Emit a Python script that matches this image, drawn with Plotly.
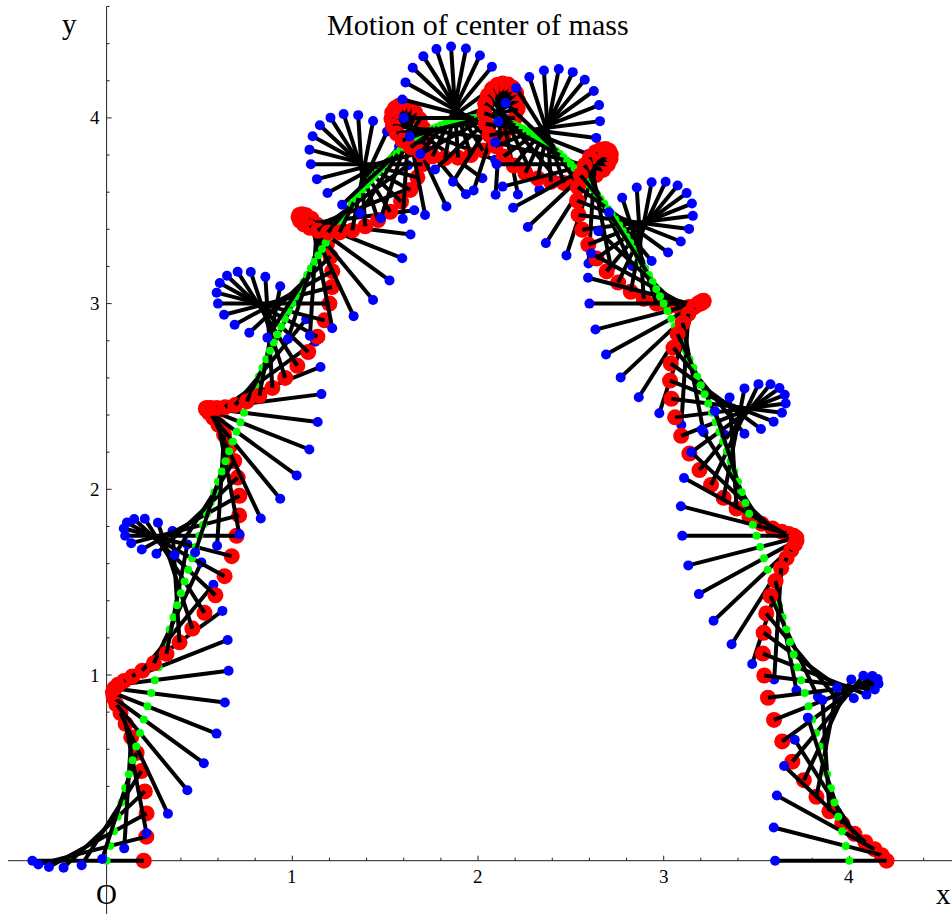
import numpy as np
import plotly.graph_objects as go

# Centre of mass follows a projectile path from (0, 0) to (4, 0)
launch_range = 4.0
peak_height = 4.0
# Rigid dumbbell: heavy end (red) and light end (blue), distances from the centre of mass
arm_red = 0.2
arm_blue = 0.4
turns = 8          # full revolutions during the flight
steps = 200        # time steps sampled

x_major = [1, 2, 3, 4]
y_major = [1, 2, 3, 4]
x_minor = [-0.4, -0.2, 0.2, 0.4, 0.6, 0.8, 1.2, 1.4, 1.6, 1.8, 2.2, 2.4, 2.6, 2.8,
           3.2, 3.4, 3.6, 3.8, 4.2, 4.4]
y_minor = [0.2, 0.4, 0.6, 0.8, 1.2, 1.4, 1.6, 1.8, 2.2, 2.4, 2.6, 2.8,
           3.2, 3.4, 3.6, 3.8, 4.2, 4.4, 4.6]

s = np.linspace(0.0, 1.0, steps + 1)
cx = launch_range * s
cy = 4.0 * peak_height * s * (1.0 - s)
theta = 2.0 * np.pi * turns * s
rx = cx + arm_red * np.cos(theta)
ry = cy + arm_red * np.sin(theta)
bx = cx - arm_blue * np.cos(theta)
by = cy - arm_blue * np.sin(theta)

W, H = 952, 914
PX = 185.7                      # pixels per unit on both axes
X0, Y0 = 106.6, 860.7           # pixel position of the origin
xr = [-X0 / PX, (W - X0) / PX]
yr = [(Y0 - H) / PX, Y0 / PX]

fig = go.Figure()
# each time step is drawn as a snapshot: heavy end, rod, centre of mass, light end
for i in range(len(s)):
    fig.add_trace(go.Scatter(x=[rx[i]], y=[ry[i]], mode="markers",
                             marker=dict(size=16, color="#ff0000", line=dict(width=0)),
                             hoverinfo="skip"))
    fig.add_trace(go.Scatter(x=[rx[i], bx[i]], y=[ry[i], by[i]], mode="lines",
                             line=dict(color="black", width=4),
                             hoverinfo="skip"))
    fig.add_trace(go.Scatter(x=[cx[i]], y=[cy[i]], mode="markers",
                             marker=dict(size=8, color="#00ff00", line=dict(width=0)),
                             hoverinfo="skip"))
    fig.add_trace(go.Scatter(x=[bx[i]], y=[by[i]], mode="markers",
                             marker=dict(size=10, color="#0000ff", line=dict(width=0)),
                             hoverinfo="skip"))

shapes = []
axis_col = "#222222"
# axes through the origin
shapes.append(dict(type="line", x0=xr[0] + 8 / PX, x1=xr[1], y0=0, y1=0,
                   line=dict(color=axis_col, width=1), layer="below"))
shapes.append(dict(type="line", x0=0, x1=0, y0=yr[0], y1=4.6,
                   line=dict(color=axis_col, width=1), layer="below"))
for v in x_major:
    shapes.append(dict(type="line", x0=v, x1=v, y0=0, y1=5 / PX,
                       line=dict(color=axis_col, width=1), layer="below"))
for v in x_minor:
    shapes.append(dict(type="line", x0=v, x1=v, y0=0, y1=3 / PX,
                       line=dict(color=axis_col, width=1), layer="below"))
for v in y_major:
    shapes.append(dict(type="line", x0=0, x1=5 / PX, y0=v, y1=v,
                       line=dict(color=axis_col, width=1), layer="below"))
for v in y_minor:
    shapes.append(dict(type="line", x0=0, x1=3 / PX, y0=v, y1=v,
                       line=dict(color=axis_col, width=1), layer="below"))

serif = "Liberation Serif"
ann = []
for v in x_major:
    ann.append(dict(x=v, y=-15.5 / PX, text=str(v), showarrow=False,
                    xanchor="center", yanchor="middle",
                    font=dict(family=serif, size=19, color="black")))
for v in y_major:
    ann.append(dict(x=-5 / PX, y=v, text=str(v), showarrow=False,
                    xanchor="right", yanchor="middle",
                    font=dict(family=serif, size=19, color="black")))

ann.append(dict(x=2.0, y=(Y0 - 24) / PX, text="Motion of center of mass", showarrow=False,
                xanchor="center", yanchor="middle",
                font=dict(family=serif, size=30, color="black")))
ann.append(dict(x=(69 - X0) / PX, y=(Y0 - 24) / PX, text="y", showarrow=False,
                xanchor="center", yanchor="middle",
                font=dict(family=serif, size=29, color="black")))
ann.append(dict(x=0.0, y=(Y0 - 894) / PX, text="O", showarrow=False,
                xanchor="center", yanchor="middle",
                font=dict(family=serif, size=29, color="black")))
ann.append(dict(x=(943 - X0) / PX, y=(Y0 - 894) / PX, text="x", showarrow=False,
                xanchor="center", yanchor="middle",
                font=dict(family=serif, size=29, color="black")))

fig.update_layout(
    width=W, height=H,
    margin=dict(l=0, r=0, t=0, b=0),
    paper_bgcolor="white", plot_bgcolor="white",
    showlegend=False,
    xaxis=dict(range=xr, visible=False, fixedrange=True),
    yaxis=dict(range=yr, visible=False, fixedrange=True),
    shapes=shapes,
    annotations=ann,
)

fig.write_html("out.html")
